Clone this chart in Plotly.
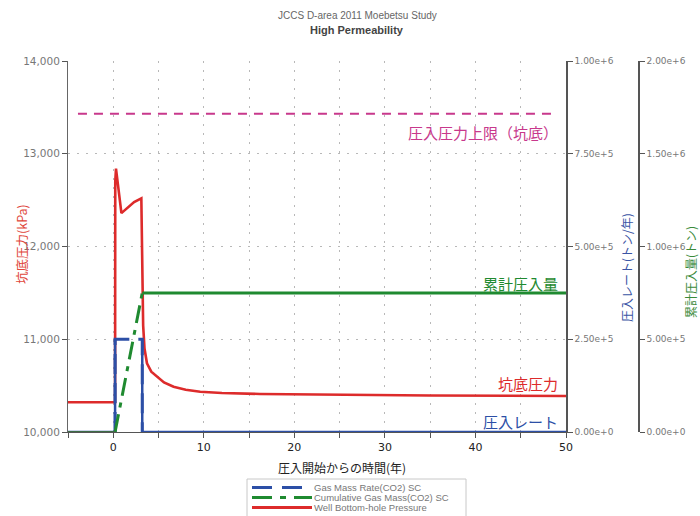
import plotly.graph_objects as go

# ---- data ----
press_t = [-5, 0.2, 0.22, 0.3, 0.9, 1.5, 2.3, 3.1, 3.2, 3.3, 3.45, 3.72, 4.2, 4.83, 5.6, 6.66, 8, 9.6, 12, 16.2, 25, 35, 50]
press_v = [10320, 10320, 12700, 12840, 12360, 12410, 12480, 12520, 11700, 11150, 10900, 10741, 10650, 10596, 10535, 10488, 10455, 10434, 10420, 10410, 10400, 10393, 10388]

rate_t = [-5, 0.2, 0.2, 3.2, 3.2, 50]
rate_v = [0, 0, 2.5e5, 2.5e5, 0, 0]

cum_t = [-5, 0.2, 3.2, 50]
cum_v = [0, 0, 7.5e5, 7.5e5]

limit_t = [-3.9, 48.9]
limit_v = [13430, 13430]

inj_start, inj_end = 0.2, 3.2

legend_names = ["Gas Mass Rate(CO2) SC", "Cumulative Gas Mass(CO2) SC", "Well Bottom-hole Pressure"]

RED = "#dd2b2b"
BLUE = "#2c4fa6"
GREEN = "#1f8a30"
MAG = "#c8388c"
JP = "Noto Sans CJK JP"
LAT = "Liberation Sans"
DV = "DejaVu Sans"

# plot-area geometry (pixels)
L, R_M, T, B = 68, 40, 61, 84
W = 700 - L - R_M
H = 516 - T - B


def px(x):
    return (x - L) / W


def py(y):
    return (516 - B - y) / H


fig = go.Figure()


def split(t, v, a, b):
    pre = [(x, y) for x, y in zip(t, v) if x <= a]
    mid = [(x, y) for x, y in zip(t, v) if a <= x <= b]
    post = [(x, y) for x, y in zip(t, v) if x >= b]
    return pre, mid, post


BLUE_DASH = "20px,9px"
GREEN_DASH = "18px,7px,5px,7px"

# Gas mass rate
pre, mid, post = split(rate_t, rate_v, inj_start, inj_end)
fig.add_trace(go.Scatter(x=[p[0] for p in mid], y=[p[1] for p in mid], yaxis="y2", mode="lines",
                         line=dict(color=BLUE, width=3, dash=BLUE_DASH)))
for seg in (pre, post):
    fig.add_trace(go.Scatter(x=[p[0] for p in seg], y=[p[1] for p in seg], yaxis="y2", mode="lines",
                             line=dict(color=BLUE, width=2.5)))

# Cumulative
pre, mid, post = split(cum_t, cum_v, inj_start, inj_end)
fig.add_trace(go.Scatter(x=[p[0] for p in mid], y=[p[1] for p in mid], yaxis="y3", mode="lines",
                         line=dict(color=GREEN, width=3, dash=GREEN_DASH)))
fig.add_trace(go.Scatter(x=[p[0] for p in pre], y=[p[1] for p in pre], yaxis="y3", mode="lines",
                         line=dict(color="#3d6b45", width=2)))
fig.add_trace(go.Scatter(x=[p[0] for p in post], y=[p[1] for p in post], yaxis="y3", mode="lines",
                         line=dict(color=GREEN, width=3)))

# Pressure
fig.add_trace(go.Scatter(x=press_t, y=press_v, yaxis="y", mode="lines",
                         line=dict(color=RED, width=2.6, shape="linear")))

# Upper limit
fig.add_trace(go.Scatter(x=limit_t, y=limit_v, yaxis="y", mode="lines",
                         line=dict(color=MAG, width=2, dash="9px,7px")))

dom_end = (566 - L) / W
GRID = "#b8b8b8"
GDASH = "2px,7px"

fig.update_layout(
    width=700, height=516,
    margin=dict(l=L, r=R_M, t=T, b=B, autoexpand=False),
    paper_bgcolor="white", plot_bgcolor="white",
    showlegend=False,
    xaxis=dict(domain=[0, dom_end], range=[-5, 50], tickvals=[0, 10, 20, 30, 40, 50],
               ticks="outside", ticklen=5, tickcolor="#555",
               showline=True, linecolor="#555", linewidth=1, zeroline=False,
               showgrid=True, gridcolor=GRID, griddash=GDASH,
               minor=dict(dtick=5, tick0=0, ticks="outside", ticklen=5, tickcolor="#555",
                          showgrid=True, gridcolor=GRID, griddash=GDASH),
               tickfont=dict(family=DV, size=11, color="#222")),
    yaxis=dict(range=[10000, 14000], tickvals=[10000, 11000, 12000, 13000, 14000],
               tickformat=",", ticks="outside", ticklen=5, tickcolor="#555",
               showline=True, linecolor="#666", linewidth=1, zeroline=False,
               showgrid=True, gridcolor=GRID, griddash=GDASH,
               tickfont=dict(family=DV, size=10.5, color="#777")),
    yaxis2=dict(range=[0, 1e6], overlaying="y", side="right", anchor="x",
                tickvals=[0, 2.5e5, 5e5, 7.5e5, 1e6], tickformat=".2e",
                ticks="outside", ticklen=5, tickcolor="#555",
                showline=True, linecolor="#555", linewidth=1.5, showgrid=False, zeroline=False,
                tickfont=dict(family=DV, size=9, color="#777")),
    yaxis3=dict(range=[0, 2e6], overlaying="y", side="right", anchor="free",
                position=px(639),
                tickvals=[0, 5e5, 1e6, 1.5e6, 2e6], tickformat=".2e",
                ticks="outside", ticklen=5, tickcolor="#555",
                showline=True, linecolor="#555", linewidth=1.5, showgrid=False, zeroline=False,
                tickfont=dict(family=DV, size=9, color="#777")),
)

ann = [
    dict(text="JCCS D-area 2011 Moebetsu Study", x=px(357), y=py(15),
         font=dict(family=LAT, size=10, color="#666")),
    dict(text="<b>High Permeability</b>", x=px(357), y=py(30),
         font=dict(family=LAT, size=11, color="#444")),
    dict(text="圧入開始からの時間(年)", x=px(342), y=py(467),
         font=dict(family=JP, size=12, color="#222")),
    dict(text="坑底圧力(kPa)", x=px(21), y=py(244), textangle=-90,
         font=dict(family=JP, size=12.5, color="#e0453a")),
    dict(text="圧入レート(トン/年)", x=px(626), y=py(268), textangle=-90,
         font=dict(family=JP, size=12, color="#3a55a5")),
    dict(text="累計圧入量(トン)", x=px(690), y=py(272), textangle=-90,
         font=dict(family=JP, size=12, color="#3a8a3a")),
]
for a in ann:
    a.update(xref="paper", yref="paper", showarrow=False, xanchor="center", yanchor="middle")
    fig.add_annotation(**a)

labels = [
    ("圧入圧力上限（坑底）", 13224, MAG),
    ("累計圧入量", 11606, GREEN),
    ("坑底圧力", 10518, RED),
    ("圧入レート", 10115, BLUE),
]
for txt, yv, col in labels:
    fig.add_annotation(text=txt, x=49.3, y=yv, xref="x", yref="y", showarrow=False,
                       xanchor="right", yanchor="middle",
                       font=dict(family=JP, size=15, color=col))

# ---- legend box (drawn below plot, cut by page edge like the reference) ----
fig.add_shape(type="rect", xref="paper", yref="paper", x0=px(247), x1=px(466), y0=py(530), y1=py(479),
              line=dict(color="#c8c8c8", width=1), fillcolor="white", layer="above")
leg_styles = [dict(color=BLUE, width=3, dash="20px,10px"),
              dict(color=GREEN, width=3, dash="20px,8px,6px,8px"),
              dict(color=RED, width=3)]
leg_y = [487.5, 497.5, 507.5]
for name, st, yy in zip(legend_names, leg_styles, leg_y):
    fig.add_shape(type="line", xref="paper", yref="paper", x0=px(252), x1=px(312), y0=py(yy), y1=py(yy),
                  line=st, layer="above")
    fig.add_annotation(text=name, x=px(313), y=py(yy), xref="paper", yref="paper", showarrow=False,
                       xanchor="left", yanchor="middle", align="left", borderpad=0,
                       font=dict(family=LAT, size=9.5, color="#777"))

fig.write_html("out.html")
